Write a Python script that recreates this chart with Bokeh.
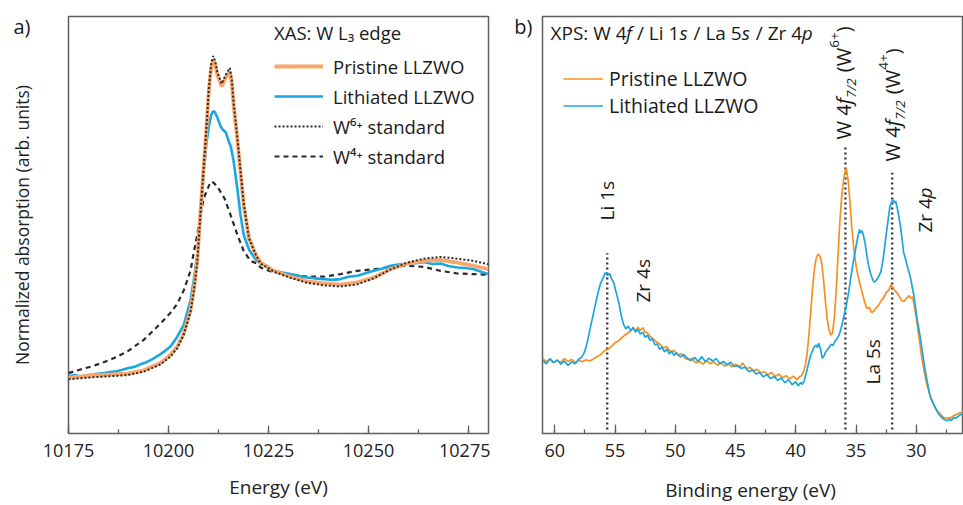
import math
from bokeh.plotting import figure
from bokeh.models import Range1d, SingleIntervalTicker, FixedTicker, Legend, LegendItem, Label
from bokeh.layouts import row
from bokeh.embed import file_html
from bokeh.resources import INLINE

FONT = "Open Sans"
TXT = "#1a1a1a"
FRAME = "#5e5e5e"

# ---------------- Panel a) XAS: W L3 edge ----------------
xas_E = [10175.0, 10181.3, 10189.7, 10193.8, 10198.0, 10200.5, 10202.2, 10203.8, 10205.5, 10206.3,
         10207.2, 10208.0, 10209.3, 10210.1, 10210.7, 10211.2, 10211.7, 10212.2, 10213.3, 10214.3,
         10215.3, 10215.8, 10216.3, 10217.2, 10218.0, 10218.8, 10220.1, 10221.8, 10223.0, 10226.3,
         10230.5, 10234.7, 10238.8, 10243.0, 10247.2, 10251.3, 10255.5, 10259.7, 10263.8, 10268.0,
         10272.2, 10276.3, 10280.0]
pristine_mu = [-0.014, 0.007, 0.026, 0.057, 0.127, 0.207, 0.286, 0.412, 0.635, 0.829,
               1.114, 1.590, 2.286, 2.762, 2.984, 3.048, 3.000, 2.905, 2.793, 2.876,
               2.936, 2.840, 2.603, 2.286, 1.969, 1.650, 1.333, 1.174, 1.095, 1.016,
               0.959, 0.914, 0.895, 0.883, 0.905, 0.952, 1.031, 1.086, 1.111, 1.121,
               1.095, 1.064, 1.031]
w6_mu = [-0.029, -0.010, 0.010, 0.043, 0.114, 0.190, 0.271, 0.400, 0.619, 0.810,
         1.095, 1.571, 2.286, 2.781, 3.019, 3.086, 3.030, 2.933, 2.819, 2.905,
         2.971, 2.870, 2.629, 2.305, 1.981, 1.667, 1.333, 1.171, 1.086, 1.010,
         0.948, 0.900, 0.876, 0.864, 0.886, 0.943, 1.029, 1.095, 1.133, 1.150,
         1.133, 1.111, 1.079]

lith_E = [10175.0, 10176.5, 10178.0, 10179.5, 10181.0, 10182.5, 10184.0, 10185.5, 10187.0, 10188.5,
          10190.0, 10191.5, 10193.0, 10194.5, 10196.0, 10197.5, 10199.0, 10200.5, 10202.2, 10203.8,
          10205.5, 10206.3, 10207.2, 10208.0, 10208.8, 10209.5, 10210.1, 10210.7, 10211.2, 10211.6,
          10212.2, 10213.0, 10213.6, 10214.3, 10215.0, 10215.6, 10216.3, 10217.2, 10218.0, 10218.8,
          10220.1, 10221.8, 10223.0, 10224.7, 10226.3, 10228.5, 10230.5, 10232.5, 10234.7, 10236.8,
          10238.8, 10241.0, 10243.0, 10245.0, 10247.2, 10249.0, 10251.3, 10253.5, 10255.5, 10257.5,
          10259.7, 10261.8, 10263.8, 10266.0, 10268.0, 10270.0, 10272.2, 10274.2, 10276.3, 10278.0,
          10280.0]
lith_mu = [0.000, 0.012, -0.002, 0.010, 0.016, 0.024, 0.030, 0.040, 0.048, 0.062,
           0.080, 0.090, 0.115, 0.135, 0.165, 0.200, 0.240, 0.286, 0.381, 0.492,
           0.730, 0.924, 1.174, 1.555, 1.971, 2.250, 2.412, 2.524, 2.555, 2.543,
           2.495, 2.410, 2.375, 2.352, 2.270, 2.210, 2.067, 1.810, 1.555, 1.365,
           1.222, 1.124, 1.086, 1.062, 1.016, 1.000, 0.984, 0.967, 0.952, 0.943,
           0.936, 0.929, 0.936, 0.958, 0.969, 0.990, 1.016, 1.038, 1.064, 1.076,
           1.086, 1.090, 1.100, 1.082, 1.086, 1.062, 1.048, 1.043, 1.031, 1.010,
           0.984]

w4_E = [10175.0, 10178.0, 10181.3, 10185.5, 10189.7, 10193.8, 10198.0, 10200.5, 10202.2, 10203.8,
        10205.5, 10206.3, 10207.2, 10208.0, 10208.8, 10210.5, 10211.2, 10212.2, 10214.0, 10215.5,
        10217.2, 10218.8, 10220.5, 10222.2, 10223.0, 10226.3, 10230.5, 10234.7, 10238.8, 10243.0,
        10247.2, 10251.3, 10255.5, 10259.7, 10263.8, 10268.0, 10272.2, 10276.3, 10280.0]
w4_mu = [0.030, 0.065, 0.100, 0.159, 0.238, 0.350, 0.508, 0.612, 0.698, 0.826,
         1.016, 1.190, 1.365, 1.555, 1.714, 1.873, 1.867, 1.829, 1.714, 1.555,
         1.365, 1.207, 1.111, 1.086, 1.048, 1.000, 0.978, 0.959, 0.959, 0.984,
         1.016, 1.031, 1.054, 1.064, 1.054, 1.016, 0.990, 0.984, 0.978]

xas_ticks_interval = 25
xas_legend_labels = ["Pristine LLZWO", "Lithiated LLZWO", "W\u2076\u207a standard", "W\u2074\u207a standard"]
xas_legend_title = "XAS: W L\u2083 edge"
xas_ylabel = "Normalized absorption (arb. units)"
panel_a_tag = "a)"
panel_a_tag_y = 3.371      # height (in data units) where the "a)" tag sits

# ---------------- Panel b) XPS ----------------
xps_pr_BE = [61.0, 60.7, 60.4, 60.1, 59.8, 59.5, 59.2, 58.9, 58.6, 58.3, 58.0, 57.7, 57.4, 57.1, 56.8,
             56.5, 56.2, 55.9, 55.6, 55.3, 55.0, 54.7, 54.4, 54.1, 53.8, 53.5, 53.3, 53.1, 52.9, 52.7,
             52.5, 52.3, 52.1, 51.9, 51.6, 51.3, 51.0, 50.7, 50.4, 50.1, 49.8, 49.5, 49.2, 48.9, 48.6,
             48.3, 48.0, 47.7, 47.4, 47.1, 46.8, 46.5, 46.2, 45.9, 45.6, 45.3, 45.0, 44.7, 44.4, 44.1,
             43.8, 43.5, 43.2, 42.9, 42.6, 42.3, 42.0, 41.7, 41.4, 41.1, 40.8, 40.5, 40.2, 39.9, 39.7,
             39.5, 39.35, 39.2, 39.05, 38.9, 38.75, 38.6, 38.45, 38.3, 38.15, 38.0, 37.85, 37.7, 37.55,
             37.4, 37.25, 37.1, 36.95, 36.8, 36.65, 36.5, 36.35, 36.2, 36.05, 35.9, 35.8, 35.65, 35.5,
             35.35, 35.2, 35.05, 34.9, 34.7, 34.5, 34.3, 34.1, 33.9, 33.7, 33.5, 33.3, 33.1, 32.9, 32.7,
             32.5, 32.3, 32.1, 31.95, 31.8, 31.6, 31.4, 31.2, 31.0, 30.8, 30.6, 30.45, 30.3, 30.15, 30.0,
             29.85, 29.7, 29.55, 29.35, 29.15, 28.95, 28.8, 28.6, 28.4, 28.25, 28.0, 27.7, 27.4, 27.15,
             26.9, 26.6, 26.3, 26.05]
xps_pr_I = [18.9, 18.1, 18.8, 17.9, 18.4, 18.0, 18.9, 18.2, 18.7, 17.9, 18.5, 18.1, 18.6, 18.3, 18.8,
            19.4, 19.9, 20.8, 21.2, 22.0, 22.9, 23.4, 24.3, 25.0, 25.6, 26.5, 25.9, 26.8, 26.0, 26.7,
            25.6, 25.4, 24.5, 24.1, 23.2, 22.6, 21.6, 21.9, 20.7, 20.9, 19.8, 20.2, 19.0, 18.6, 18.9,
            17.8, 18.2, 17.5, 18.4, 17.6, 18.1, 17.2, 17.9, 17.0, 17.6, 16.8, 17.5, 16.6, 17.8, 16.3,
            16.7, 15.8, 16.2, 15.3, 15.6, 14.8, 15.4, 14.4, 15.0, 14.1, 14.6, 13.8, 14.5, 13.6, 14.3,
            14.6, 15.6, 17.3, 20.4, 25.2, 31.0, 37.0, 41.6, 44.3, 45.3, 44.8, 43.1, 39.0, 33.6,
            29.2, 26.3, 24.8, 25.4, 29.1, 35.8, 44.6, 53.0, 59.4, 63.6, 66.3, 66.9, 63.8, 58.3,
            52.0, 47.1, 43.4, 40.7, 38.1, 35.7, 33.4, 31.5, 31.9, 30.5, 30.9, 31.8, 32.5, 33.6, 34.3,
            35.6, 36.1, 37.5, 36.9, 36.2, 35.5, 34.6, 33.5, 33.4, 34.2, 34.8, 34.1, 34.5, 32.0, 29.2,
            26.0, 22.6, 19.3, 15.7, 12.8, 10.6, 9.0, 7.6, 6.5, 5.7, 4.9, 4.0, 3.8, 4.0,
            4.5, 4.9, 5.3, 5.7]

xps_li_BE = [61.0, 60.7, 60.4, 60.1, 59.8, 59.5, 59.2, 58.9, 58.6, 58.3, 58.0, 57.8, 57.6, 57.4, 57.2,
             57.0, 56.8, 56.6, 56.4, 56.2, 56.0, 55.8, 55.6, 55.45, 55.3, 55.1, 54.9, 54.7, 54.5, 54.3,
             54.1, 53.9, 53.7, 53.5, 53.3, 53.1, 52.9, 52.7, 52.5, 52.3, 52.1, 51.9, 51.7, 51.5, 51.3,
             51.1, 50.9, 50.7, 50.5, 50.3, 50.1, 49.9, 49.6, 49.3, 49.0, 48.7, 48.4, 48.1, 47.8, 47.5,
             47.2, 46.9, 46.6, 46.3, 46.0, 45.7, 45.4, 45.1, 44.8, 44.5, 44.2, 43.9, 43.6, 43.3, 43.0,
             42.7, 42.4, 42.1, 41.8, 41.5, 41.2, 40.9, 40.6, 40.3, 40.0, 39.8, 39.6, 39.45, 39.3, 39.15,
             39.0, 38.9, 38.75, 38.6, 38.45, 38.3, 38.2, 38.1, 37.95, 37.8, 37.65, 37.5, 37.35, 37.2,
             37.05, 36.9, 36.75, 36.55, 36.4, 36.25, 36.1, 36.0, 35.85, 35.7, 35.55, 35.45, 35.3, 35.15,
             35.0, 34.85, 34.7, 34.6, 34.5, 34.4, 34.25, 34.1, 33.95, 33.8, 33.65, 33.5, 33.35, 33.2,
             33.05, 32.95, 32.8, 32.65, 32.5, 32.35, 32.2, 32.05, 31.9, 31.8, 31.7, 31.55, 31.45, 31.3,
             31.15, 31.05, 30.9, 30.75, 30.6, 30.45, 30.3, 30.2, 30.05, 29.9, 29.75, 29.65, 29.5, 29.3,
             29.1, 28.9, 28.75, 28.55, 28.35, 28.15, 28.0, 27.8, 27.6, 27.44, 27.25, 27.1, 26.9,
             26.7, 26.4, 26.1]
xps_li_I = [18.4, 17.6, 18.9, 17.9, 18.6, 17.5, 18.3, 17.2, 18.1, 17.6, 18.8, 19.2, 20.1, 21.8, 24.5,
            27.4, 30.2, 33.0, 35.7, 37.9, 39.2, 40.6, 39.9, 40.4, 39.1, 38.0, 35.5, 33.2, 30.0, 27.6,
            26.4, 27.1, 25.9, 26.8, 25.6, 26.2, 25.1, 25.6, 24.3, 24.8, 23.5, 23.9, 22.4, 22.6, 21.2,
            21.8, 20.6, 21.3, 20.1, 20.8, 19.7, 20.4, 19.3, 19.9, 19.0, 18.4, 19.2, 18.2, 19.4, 18.1,
            19.0, 18.3, 18.9, 17.6, 18.2, 17.3, 18.0, 16.9, 17.2, 16.4, 16.8, 15.6, 16.1, 15.0, 15.4,
            14.3, 14.9, 13.9, 14.4, 13.4, 14.0, 12.8, 13.6, 12.3, 13.1, 12.0, 12.9, 12.4, 13.3, 15.0,
            16.9, 18.2, 19.9, 21.0, 21.9, 22.3, 21.7, 22.8, 21.4, 19.0, 19.6, 20.7, 21.2, 21.9,
            22.5, 22.2, 23.3, 24.0, 24.9, 26.4, 28.3, 29.8, 31.6, 34.1, 36.9, 39.0, 42.0, 44.6,
            47.2, 49.6, 51.5, 50.6, 51.2, 50.2, 48.1, 44.9, 42.3, 40.5, 39.1, 38.2, 38.5, 39.2,
            40.1, 40.7, 43.0, 46.3, 50.2, 53.6, 57.0, 58.4, 59.0, 58.2, 58.6, 56.5, 54.8, 52.1,
            48.4, 45.7, 44.2, 42.3, 40.7, 38.9, 36.4, 34.8, 31.6, 28.3, 25.8, 24.0, 20.8, 16.7,
            13.2, 10.1, 8.6, 7.3, 6.0, 5.0, 4.4, 3.8, 3.4, 3.2, 3.6, 3.3, 4.0,
            3.9, 4.6, 5.2]

xps_legend_labels = ["Pristine LLZWO", "Lithiated LLZWO"]
panel_b_tag = "b)"
panel_b_tag_y = 102.6
# peak positions (binding energy, eV) marked by dotted guides, and how high each guide reaches
marker_BE = [55.65, 35.88, 32.0]
marker_top = [45.5, 72.2, 65.8]

# ---------------- helpers for rich (mixed-style) text ----------------
EM = {" ": 0.26, "(": 0.296, ")": 0.296, "/": 0.372, ":": 0.269, "+": 0.572, "X": 0.549, "P": 0.598,
      "S": 0.535, "L": 0.52, "W": 0.928, "Z": 0.553, "i": 0.253, "a": 0.556, "r": 0.408, "s": 0.477,
      "f": 0.32, "p": 0.60, "e": 0.56, "d": 0.61, "g": 0.54}
for d in "0123456789":
    EM[d] = 0.572


def tw(s, size):
    return sum(EM.get(c, 0.56) for c in s) * size


def rich(p, segs, x, y, angle=0.0, x_units="screen", y_units="screen", shift=0):
    """segs: (text, size, style, perpendicular offset px); chained along the reading direction."""
    adv = 0.0
    for text, size, style, off in segs:
        lead = len(text) - len(text.lstrip(" "))
        shown = text.strip(" ")
        pos = adv + tw(" " * lead, size)
        if angle == 0.0:
            lab = Label(x=x + pos, y=y, x_units=x_units, y_units=y_units, text=shown, y_offset=-off)
        else:
            lab = Label(x=x, y=y + pos, x_units=x_units, y_units=y_units, text=shown,
                        angle=angle, x_offset=off + shift)
        lab.text_font = FONT
        lab.text_font_size = f"{size}px"
        lab.text_font_style = style
        lab.text_color = TXT
        lab.text_align = "left"
        lab.text_baseline = "middle"
        p.add_layout(lab)
        adv += tw(text, size)


def style_common(p):
    p.background_fill_color = "white"
    p.border_fill_color = "white"
    p.outline_line_color = FRAME
    p.outline_line_width = 1.5
    p.xgrid.visible = False
    p.ygrid.visible = False
    ax = p.xaxis[0]
    ax.axis_line_color = None
    ax.major_tick_line_color = FRAME
    ax.minor_tick_line_color = FRAME
    ax.major_tick_line_width = 1.3
    ax.minor_tick_line_width = 1.3
    ax.major_tick_out = 0
    ax.minor_tick_out = 0
    ax.minor_tick_in = 4
    ax.major_label_text_font = FONT
    ax.major_label_text_font_size = "18px"
    ax.major_label_text_color = "#222222"
    ax.major_label_standoff = 10
    ax.axis_label_text_font = FONT
    ax.axis_label_text_font_style = "normal"
    ax.axis_label_text_font_size = "19px"
    ax.axis_label_text_color = "#222222"


def tag_axis(ax, tag, tag_y, standoff):
    """Vertical axis with no ticks whose single tick label is the panel tag."""
    ax.ticker = FixedTicker(ticks=[tag_y], minor_ticks=[])
    ax.major_label_overrides = {tag_y: tag}
    ax.axis_line_color = None
    ax.major_tick_line_color = None
    ax.minor_tick_line_color = None
    ax.major_tick_out = 0
    ax.major_tick_in = 0
    ax.major_label_standoff = standoff
    ax.major_label_text_font = FONT
    ax.major_label_text_font_size = "20px"
    ax.major_label_text_color = TXT


# ---------------- figure a ----------------
p1 = figure(width=490, height=505, x_range=Range1d(10175, 10280), y_range=Range1d(-0.552, 3.467),
            output_backend="svg", toolbar_location=None,
            min_border_left=68, min_border_right=2, min_border_top=16, min_border_bottom=67)
style_common(p1)
p1.xaxis.ticker = SingleIntervalTicker(interval=xas_ticks_interval, num_minor_ticks=2)
p1.xaxis.major_tick_in = 8
p1.xaxis.axis_label = "Energy (eV)"
p1.xaxis.axis_label_standoff = 14
tag_axis(p1.yaxis[0], panel_a_tag, panel_a_tag_y, 38)
p1.yaxis.axis_label = xas_ylabel
p1.yaxis.axis_label_text_font = FONT
p1.yaxis.axis_label_text_font_style = "normal"
p1.yaxis.axis_label_text_font_size = "17.5px"
p1.yaxis.axis_label_text_color = "#222222"
p1.yaxis.axis_label_standoff = -24

r_w4 = p1.line(w4_E, w4_mu, line_color="#2a2a2a", line_width=2.2, line_dash="5 4")
r_li = p1.line(lith_E, lith_mu, line_color="#1aa7e0", line_width=2.6)
r_pr = p1.line(xas_E, pristine_mu, line_color="#f8a66a", line_width=3.8)
r_w6 = p1.line(xas_E, w6_mu, line_color="#2a2a2a", line_width=2.0, line_dash="2 2")

leg1 = Legend(items=[LegendItem(label=xas_legend_labels[0], renderers=[r_pr]),
                     LegendItem(label=xas_legend_labels[1], renderers=[r_li]),
                     LegendItem(label=xas_legend_labels[2], renderers=[r_w6]),
                     LegendItem(label=xas_legend_labels[3], renderers=[r_w4])],
              title=xas_legend_title, location=(206, 262))
leg1.border_line_color = None
leg1.background_fill_alpha = 0
leg1.padding = 0
leg1.margin = 0
leg1.spacing = 0
leg1.glyph_width = 49
leg1.glyph_height = 30
leg1.label_height = 30
leg1.label_standoff = 10
leg1.label_text_font = FONT
leg1.label_text_font_size = "18.5px"
leg1.label_text_color = TXT
leg1.title_text_font = FONT
leg1.title_text_font_size = "18.5px"
leg1.title_text_font_style = "normal"
leg1.title_text_color = TXT
leg1.title_standoff = 6
p1.add_layout(leg1)

# ---------------- figure b ----------------
p2 = figure(width=473, height=505, x_range=Range1d(61.02, 26.08), y_range=Range1d(0, 105.25),
            output_backend="svg", toolbar_location=None,
            min_border_left=52, min_border_right=0, min_border_top=15, min_border_bottom=69)
style_common(p2)
tag_axis(p2.yaxis[0], panel_b_tag, panel_b_tag_y, 10)
p2.xaxis.ticker = SingleIntervalTicker(interval=5, num_minor_ticks=2)
p2.xaxis.major_tick_in = 9
p2.xaxis.axis_label = "Binding energy  (eV)"
p2.xaxis.axis_label_standoff = 17

p2.segment(x0=marker_BE, y0=[1] * len(marker_BE), x1=marker_BE, y1=marker_top,
           line_color="#3a3a3a", line_width=2.4, line_dash="2 3")
r2_pr = p2.line(xps_pr_BE, xps_pr_I, line_color="#f7901e", line_width=1.7)
r2_li = p2.line(xps_li_BE, xps_li_I, line_color="#1ca6df", line_width=1.7)

leg2 = Legend(items=[LegendItem(label=xps_legend_labels[0], renderers=[r2_pr]),
                     LegendItem(label=xps_legend_labels[1], renderers=[r2_li])],
              location=(21, 314))
leg2.border_line_color = None
leg2.background_fill_alpha = 0
leg2.padding = 0
leg2.margin = 0
leg2.spacing = 0
leg2.glyph_width = 40
leg2.glyph_height = 27
leg2.label_height = 27
leg2.label_standoff = 6
leg2.label_text_font = FONT
leg2.label_text_font_size = "19.5px"
leg2.label_text_color = TXT
p2.add_layout(leg2)

rich(p2, [("XPS: W 4", 19, "normal", 0), ("f", 19, "italic", 0), (" / Li 1", 19, "normal", 0),
          ("s", 19, "italic", 0), (" / La 5", 19, "normal", 0), ("s", 19, "italic", 0),
          (" / Zr 4", 19, "normal", 0), ("p", 19, "italic", 0)], 8, 401)

A = math.pi / 2
rich(p2, [("Li 1s", 19, "normal", 0)], marker_BE[0], 213, angle=A, x_units="data")
rich(p2, [("Zr 4s", 19, "normal", 0)], 52.64, 131, angle=A, x_units="data")
rich(p2, [("La 5s", 19, "normal", 0)], 33.6, 49, angle=A, x_units="data")
rich(p2, [("Zr 4", 19, "normal", 0), ("p", 19, "italic", 0)], 29.3, 201, angle=A, x_units="data")
rich(p2, [("W 4", 20, "normal", 0), ("f", 20, "italic", 0), ("7/2", 13.5, "italic", 7.5),
          (" (W", 20, "normal", 0), ("6+", 13.5, "normal", -8.5), (")", 20, "normal", 0)],
     marker_BE[1], 294, angle=A, x_units="data", shift=-2)
rich(p2, [("W 4", 20, "normal", 0), ("f", 20, "italic", 0), ("7/2", 13.5, "italic", 7.5),
          (" (W", 20, "normal", 0), ("4+", 13.5, "normal", -8.5), (")", 20, "normal", 0)],
     marker_BE[2], 272, angle=A, x_units="data")

layout = row(p1, p2, spacing=0)
open("out.html", "w").write(file_html(layout, INLINE))
